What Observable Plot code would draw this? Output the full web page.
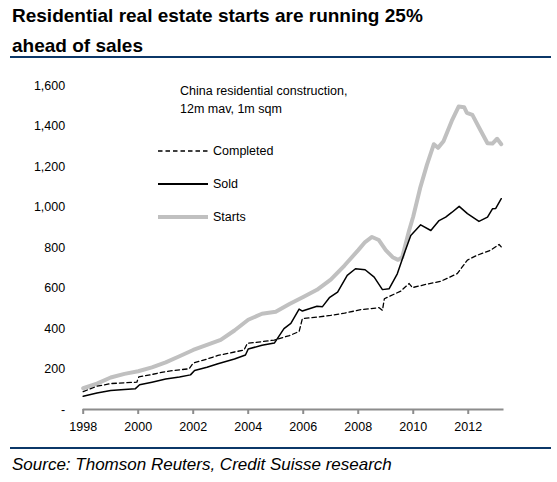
<!DOCTYPE html>
<html><head><meta charset="utf-8">
<script src="https://cdn.jsdelivr.net/npm/d3@7"></script>
<script src="https://cdn.jsdelivr.net/npm/@observablehq/plot@0.6"></script>
<style>
body{margin:0;background:#fff;font-family:Arial,"Liberation Sans",sans-serif;}
#wrap{position:relative;width:557px;height:482px;overflow:hidden;background:#fff;}
#title{position:absolute;left:12px;top:1px;font-weight:bold;font-size:19px;line-height:30px;color:#000;white-space:nowrap;}
.rule{position:absolute;left:10px;width:541px;height:2px;background:#0b3768;}
#caption{position:absolute;left:12px;top:455px;font-style:italic;font-size:17px;line-height:20px;color:#000;white-space:nowrap;}
#chart{position:absolute;left:0;top:0;}
#legend{position:absolute;left:0;top:0;pointer-events:none;}
</style>
</head><body>
<div id="wrap">
  <div id="chart"></div>
  <div id="title">Residential real estate starts are running 25%<br>ahead of sales</div>
  <div class="rule" style="top:56px"></div>
  <div class="rule" style="top:447px"></div>
  <div id="caption">Source: Thomson Reuters, Credit Suisse research</div>
  <svg id="legend" width="557" height="482"></svg>
</div>
<script>
// [decimal year, million sqm, 12m moving average]
const starts = [
  [1998.0,105],[1998.5,128],[1999.0,158],[1999.5,176],[2000.0,189],[2000.5,208],
  [2001.0,233],[2001.5,263],[2002.0,294],[2002.5,319],[2003.0,344],[2003.5,390],
  [2004.0,443],[2004.5,473],[2005.0,483],[2005.5,521],[2006.0,556],[2006.5,591],
  [2007.0,641],[2007.5,711],[2008.0,787],[2008.25,827],[2008.5,852],[2008.75,837],
  [2009.0,787],[2009.25,752],[2009.45,739],[2009.6,752],[2009.85,884],[2010.0,953],
  [2010.25,1093],[2010.5,1209],[2010.75,1310],[2010.9,1292],[2011.1,1325],[2011.4,1425],
  [2011.65,1496],[2011.85,1493],[2011.95,1465],[2012.15,1455],[2012.45,1378],[2012.7,1315],
  [2012.88,1313],[2013.05,1337],[2013.2,1310]
];
const sold = [
  [1998.0,65],[1998.5,81],[1999.0,94],[1999.5,99],[1999.9,103],[2000.05,122],
  [2000.5,135],[2001.0,151],[2001.5,161],[2001.9,171],[2002.05,193],[2002.5,209],
  [2002.9,226],[2003.5,249],[2003.9,269],[2004.0,299],[2004.5,317],[2004.95,328],
  [2005.3,399],[2005.55,425],[2005.85,496],[2005.97,486],[2006.5,510],[2006.7,508],
  [2006.95,552],[2007.25,580],[2007.6,662],[2007.9,695],[2008.25,690],[2008.58,654],
  [2008.88,592],[2009.12,596],[2009.42,670],[2009.67,769],[2009.91,859],[2010.27,912],
  [2010.64,884],[2010.94,933],[2011.18,950],[2011.4,973],[2011.67,1003],[2011.97,967],
  [2012.39,929],[2012.7,950],[2012.88,991],[2013.0,993],[2013.2,1041]
];
const completed = [
  [1998.0,88],[1998.5,115],[1999.0,128],[1999.5,132],[1999.95,135],[2000.02,161],
  [2000.5,173],[2000.9,185],[2001.3,193],[2001.85,201],[2002.0,229],[2002.5,249],
  [2002.9,267],[2003.5,284],[2003.85,294],[2003.97,327],[2004.5,335],[2004.95,343],
  [2005.5,365],[2005.85,385],[2005.97,449],[2006.5,456],[2007.0,465],[2007.5,476],
  [2008.1,493],[2008.76,503],[2008.88,490],[2008.95,547],[2009.55,585],[2009.85,622],
  [2009.97,602],[2010.5,619],[2011.0,633],[2011.6,671],[2011.97,738],[2012.33,762],
  [2012.82,787],[2013.12,815],[2013.2,803]
];
const xTicks = [1998,2000,2002,2004,2006,2008,2010,2012];
const yTicks = [0,200,400,600,800,1000,1200,1400,1600];
const seriesNames = ["Completed","Sold","Starts"];
const noteLines = ["China residential construction,","12m mav, 1m sqm"];

const axisGray = "#8c8c8c";
const startsGray = "#c0c0c0";
const fmt = d3.format(",");

const chart = Plot.plot({
  width: 557, height: 482,
  marginLeft: 82.7, marginRight: 53.5, marginTop: 85, marginBottom: 73,
  style: {fontFamily: "Arial, 'Liberation Sans', sans-serif", fontSize: "12.5px", color: "#000", background: "transparent"},
  x: {domain: [1998, 2013.3]},
  y: {domain: [0, 1600]},
  marks: [
    Plot.axisY({ticks: yTicks, tickSize: 0, tickPadding: 18, tickFormat: d => d === 0 ? "-" : fmt(d), label: null, fontSize: 12.5}),
    Plot.axisX({ticks: xTicks, tickSize: 5, tickPadding: 8, stroke: axisGray, strokeWidth: 2, fill: "#000", tickFormat: d => String(d), label: null, fontSize: 12.5}),
    Plot.ruleY([0], {stroke: axisGray, strokeWidth: 2}),
    Plot.line(starts, {x: d => d[0], y: d => d[1], stroke: startsGray, strokeWidth: 4, strokeLinejoin: "round"}),
    Plot.line(completed, {x: d => d[0], y: d => d[1], stroke: "#000", strokeWidth: 1.3, strokeDasharray: "4.5,3"}),
    Plot.line(sold, {x: d => d[0], y: d => d[1], stroke: "#000", strokeWidth: 1.5})
  ]
});
document.getElementById("chart").appendChild(chart);

// legend + note overlay
const lg = d3.select("#legend");
const styles = [
  {stroke: "#000", w: 1.3, dash: "4.5,3"},
  {stroke: "#000", w: 2, dash: null},
  {stroke: startsGray, w: 4, dash: null}
];
const legY = [151, 184, 217];
seriesNames.forEach((name, i) => {
  const l = lg.append("line").attr("x1", 158).attr("x2", 208).attr("y1", legY[i]).attr("y2", legY[i])
    .attr("stroke", styles[i].stroke).attr("stroke-width", styles[i].w);
  if (styles[i].dash) l.attr("stroke-dasharray", styles[i].dash);
  lg.append("text").attr("x", 213).attr("y", legY[i]).attr("dy", "0.35em")
    .attr("font-size", "12.5px").attr("font-family", "Arial, 'Liberation Sans', sans-serif").text(name);
});
noteLines.forEach((t, i) => {
  lg.append("text").attr("x", 180).attr("y", 90.7 + i * 17.6).attr("dy", "0.35em")
    .attr("font-size", "12.5px").attr("font-family", "Arial, 'Liberation Sans', sans-serif").text(t);
});
</script>
</body></html>
